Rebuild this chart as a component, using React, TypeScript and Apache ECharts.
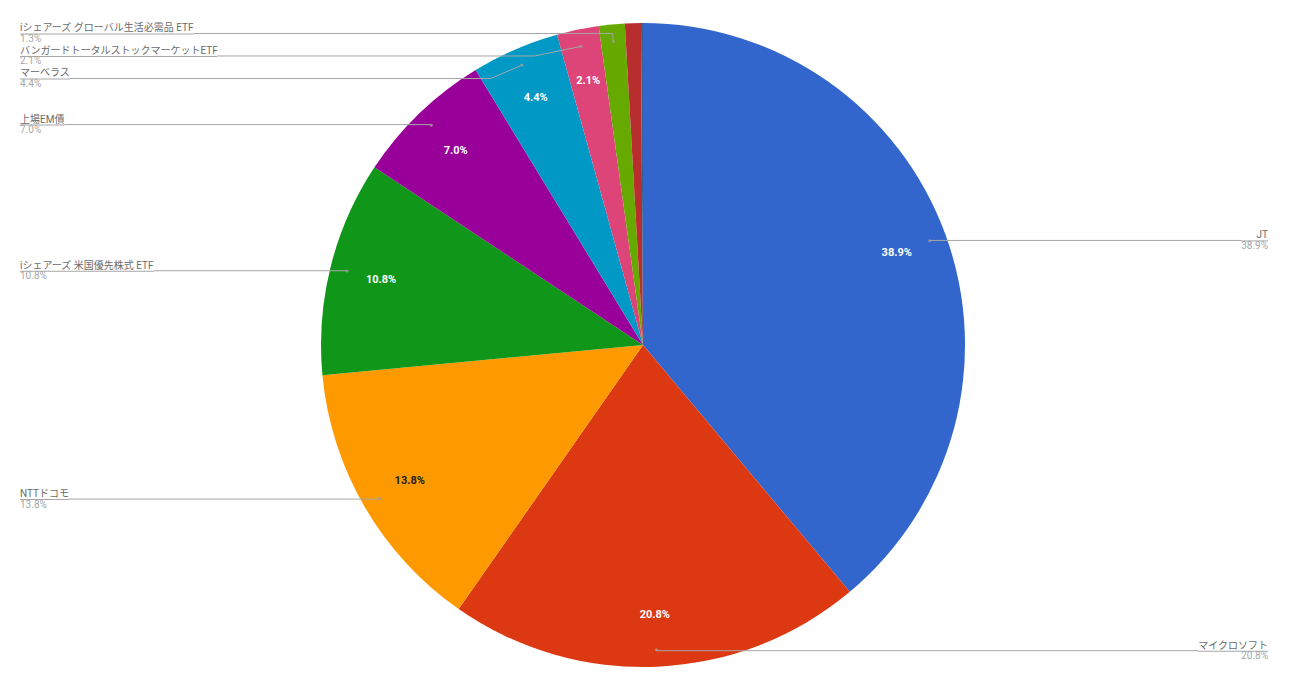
import React, { useEffect, useRef } from "react";
import * as echarts from "echarts";

const names = [
  "JT",
  "マイクロソフト",
  "NTTドコモ",
  "iシェアーズ 米国優先株式 ETF",
  "上場EM債",
  "マーベラス",
  "バンガードトータルストックマーケットETF",
  "iシェアーズ グローバル生活必需品 ETF",
  "その他A",
  "その他B",
];
const values = [38.9, 20.8, 13.8, 10.8, 7.0, 4.4, 2.1, 1.3, 0.8, 0.1];
const colors = [
  "#3366cc",
  "#dc3912",
  "#ff9900",
  "#109618",
  "#990099",
  "#0099c6",
  "#dd4477",
  "#66aa00",
  "#b82e2e",
  "#316395",
];
// slices without an inside percentage label
const insideHidden = [false, false, false, false, false, false, false, true, true, true];
// slices without an outside legend label
const outsideHidden = [false, false, false, false, false, false, false, false, true, true];
const darkInsideText = [false, false, true, false, false, false, false, false, false, false];
// radial length of the first leader-line segment (style)
const leaderLengths = [1, 1, 1, 1, 1, 8, 8, 8, 1, 1];

const FONT = 'Roboto, Arial, "Noto Sans CJK JP", sans-serif';
const GREY = "#a6a6a6";

export default function App() {
  const ref = useRef<HTMLDivElement>(null);
  useEffect(() => {
    if (!ref.current) return;
    const chart = echarts.init(ref.current, undefined, { renderer: "svg" });
    const center = [643, 345];
    const R = 322;
    const DOT_R = 305;
    const total = values.reduce((a, b) => a + b, 0);
    const pct = (p: any) => Number(p.percent).toFixed(1) + "%";
    const visible = names.map((n, i) => ({
      name: n,
      value: values[i],
      itemStyle: { color: colors[i] },
    }));
    const inside = names.map((n, i) => ({
      name: n,
      value: values[i],
      label: {
        show: !insideHidden[i],
        color: darkInsideText[i] ? "#222222" : "#ffffff",
      },
    }));
    const outside = names.map((n, i) => ({
      name: n,
      value: values[i],
      label: { show: !outsideHidden[i] },
      labelLine: { show: !outsideHidden[i], length: leaderLengths[i] },
    }));
    // leader-line start dots at each slice's mid angle (in percent of the whole)
    const dots: number[][] = [];
    let cum = 0;
    values.forEach((v, i) => {
      const mid = ((cum + v / 2) / total) * 100;
      cum += v;
      if (!outsideHidden[i]) dots.push([DOT_R, mid]);
    });
    chart.setOption({
      animation: false,
      backgroundColor: "#ffffff",
      textStyle: { fontFamily: FONT },
      polar: { center, radius: R },
      angleAxis: {
        type: "value",
        min: 0,
        max: 100,
        startAngle: 90,
        clockwise: true,
        show: false,
      },
      radiusAxis: { type: "value", min: 0, max: R, show: false },
      series: [
        {
          type: "pie",
          center,
          radius: [0, R],
          startAngle: 90,
          clockwise: true,
          silent: true,
          data: visible,
          label: { show: false },
          labelLine: { show: false },
          itemStyle: { borderWidth: 0 },
          emphasis: { disabled: true },
          z: 1,
        },
        {
          type: "pie",
          center,
          radius: [212, R],
          startAngle: 90,
          clockwise: true,
          silent: true,
          data: inside,
          itemStyle: { color: "rgba(0,0,0,0)" },
          label: {
            position: "inside",
            formatter: pct,
            fontSize: 11,
            fontWeight: "bold",
            fontFamily: FONT,
          },
          labelLine: { show: false },
          emphasis: { disabled: true },
          z: 3,
        },
        {
          type: "pie",
          center,
          radius: [0, DOT_R],
          startAngle: 90,
          clockwise: true,
          silent: true,
          data: outside,
          itemStyle: { color: "rgba(0,0,0,0)" },
          label: {
            position: "outside",
            alignTo: "edge",
            edgeDistance: 20,
            distanceToLabelLine: 0,
            padding: [0, 0, 2, 0],
            formatter: (p: any) => "{n|" + p.name + "}\n{r| }\n{p|" + pct(p) + "}",
            rich: {
              n: { fontSize: 10, lineHeight: 11, color: "#6b6b6b", fontFamily: FONT },
              r: {
                fontSize: 1,
                lineHeight: 1,
                height: 1,
                width: "100%",
                backgroundColor: GREY,
              },
              p: { fontSize: 10, lineHeight: 8, color: GREY, fontFamily: FONT },
            },
          },
          labelLine: {
            show: true,
            length: 1,
            length2: 10,
            lineStyle: { color: GREY, width: 1 },
          },
          emphasis: { disabled: true },
          z: 2,
        },
        {
          type: "scatter",
          coordinateSystem: "polar",
          silent: true,
          symbol: "circle",
          symbolSize: 3,
          itemStyle: { color: "#9e9e9e" },
          data: dots,
          z: 4,
        },
      ],
    });
    return () => chart.dispose();
  }, []);
  return (
    <div
      ref={ref}
      style={{ position: "fixed", left: 0, top: 0, width: 1288, height: 687 }}
    />
  );
}
